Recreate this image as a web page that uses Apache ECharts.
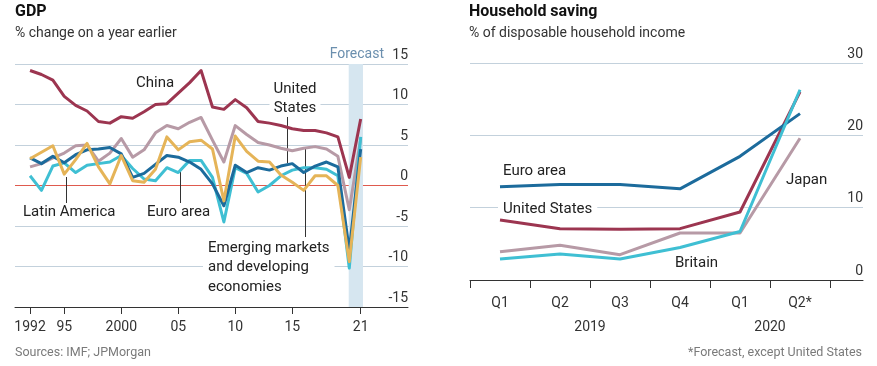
<!DOCTYPE html>
<html>
<head>
<meta charset="utf-8">
<script src="https://cdn.jsdelivr.net/npm/echarts@6/dist/echarts.min.js"></script>
<style>
html,body{margin:0;padding:0;background:#fff;}
#c{width:877px;height:366px;}
</style>
</head>
<body>
<div id="c"></div>
<script>
// ---- GDP chart data (% change on a year earlier) ----
const gdpYears = [1992,1993,1994,1995,1996,1997,1998,1999,2000,2001,2002,2003,2004,2005,2006,2007,2008,2009,2010,2011,2012,2013,2014,2015,2016,2017,2018,2019,2020,2021];
const china    = [14.2,13.7,13.0,11.0,9.9,9.2,7.9,7.7,8.5,8.3,9.1,10.0,10.1,11.4,12.7,14.2,9.7,9.4,10.6,9.6,7.9,7.7,7.4,7.0,6.8,6.8,6.5,6.0,1.0,8.2];
const emde     = [2.3,2.7,3.4,4.0,4.9,5.0,3.0,4.0,5.8,3.5,4.4,6.5,7.4,7.0,7.8,8.4,5.6,2.9,7.4,6.3,5.3,5.0,4.6,4.3,4.6,4.8,4.5,3.6,-3.0,5.8];
const latinAm  = [3.3,4.1,4.9,1.4,3.2,5.2,2.3,0.2,3.7,0.6,0.4,2.0,6.0,4.4,5.4,5.6,4.5,-1.9,6.1,4.2,3.0,2.9,1.3,0.4,-0.6,1.2,1.2,0.0,-9.4,3.5];
const usGdp    = [3.4,2.7,3.6,2.8,3.8,4.4,4.5,4.7,3.9,1.0,1.5,2.6,3.7,3.5,2.9,2.0,0.2,-2.5,2.5,1.6,2.2,1.9,2.4,2.7,1.6,2.4,2.9,2.3,-8.0,4.5];
const euroGdp  = [1.2,-0.6,2.4,2.8,1.6,2.5,2.7,2.9,3.7,2.1,0.8,0.6,2.2,1.6,3.1,3.1,1.0,-4.5,2.2,1.5,-0.8,0.0,1.2,1.9,2.2,2.2,2.0,1.2,-10.2,6.0];
const gdpTickYears = [1992,1995,2000,2005,2010,2015,2021];
const gdpTickLabels = ['1992','95','2000','05','10','15','21'];
const forecastRange = [2019.95, 2021.2];

// ---- Household saving data (% of disposable household income) ----
const quarters = ['Q1','Q2','Q3','Q4','Q1','Q2*'];
const yearLabels = ['2019','2020'];
const euroSaving    = [12.9,13.2,13.2,12.6,17.1,23.0];
const usSaving      = [8.3,7.1,7.0,7.1,9.4,26.0];
const japanSaving   = [3.9,4.8,3.5,6.5,6.5,19.6];
const britainSaving = [2.9,3.6,2.9,4.5,6.7,26.3];

const C = {
  china:'#9c3550', emde:'#b79aa6', latin:'#e5b458', us:'#1c6b9c', euro:'#3fbfd3',
  grid:'#c3d1dc', zero:'#df5a4e', text:'#333333', band:'#d6e6f0'
};
const FONT = 'Roboto';

function pairs(xs, ys){ return ys.map((v,i)=>[xs[i], v]); }
const qx = quarters.map((q,i)=>i+0.5);

function gdpSeries(name, data, color){
  return {type:'line', name, xAxisIndex:0, yAxisIndex:0, data:pairs(gdpYears,data), z:5,
    showSymbol:false, lineStyle:{color, width:3, join:'round'}, itemStyle:{color}, silent:true, animation:false};
}
function savSeries(name, data, color){
  return {type:'line', name, xAxisIndex:1, yAxisIndex:1, data:pairs(qx,data), z:5,
    showSymbol:false, lineStyle:{color, width:3, join:'round'}, itemStyle:{color}, silent:true, animation:false};
}

const gridColors = ['#c3d1dc','#c3d1dc','#c3d1dc', C.zero, '#c3d1dc','#c3d1dc','#c3d1dc'];

const chart = echarts.init(document.getElementById('c'), null, {renderer:'canvas'});
const txt = (o)=>Object.assign({type:'text', silent:true}, o);

chart.setOption({
  animation:false,
  textStyle:{fontFamily:FONT},
  grid:[
    {left:15, top:64, width:393, height:243},
    {left:470, top:63, width:393, height:217}
  ],
  xAxis:[
    {type:'value', gridIndex:0, min:1990.68, max:2025.15, z:6,
      axisLine:{show:true, onZero:false, lineStyle:{color:'#333', width:1}},
      axisTick:{show:true, length:7, customValues:gdpTickYears, lineStyle:{color:'#333'}},
      axisLabel:{customValues:gdpTickYears, formatter:(v)=>gdpTickLabels[gdpTickYears.indexOf(Math.round(v))], color:C.text, fontSize:14, margin:13, fontFamily:FONT},
      splitLine:{show:false}},
    {type:'value', gridIndex:1, min:0, max:6.55, z:6,
      axisLine:{show:true, onZero:false, lineStyle:{color:'#333', width:1}},
      axisTick:{show:true, length:8, customValues:[0,1,2,3,4,5,6], lineStyle:{color:'#333'}},
      axisLabel:{customValues:qx, formatter:(v)=>quarters[Math.round(v-0.5)], color:C.text, fontSize:14, margin:16, fontFamily:FONT},
      splitLine:{show:false}},
    {type:'value', gridIndex:1, min:0, max:6.55, position:'bottom',
      axisLine:{show:false}, axisTick:{show:false},
      axisLabel:{customValues:[2,5], formatter:(v)=>yearLabels[v===2?0:1], color:C.text, fontSize:14, margin:40, fontFamily:FONT},
      splitLine:{show:false}}
  ],
  yAxis:[
    {type:'value', gridIndex:0, min:-15, max:15, interval:5, position:'right', z:0,
      axisLine:{show:false}, axisTick:{show:false},
      axisLabel:{inside:true, align:'right', verticalAlign:'bottom', margin:0, padding:[0,0,2,0], color:C.text, fontSize:14, fontFamily:FONT},
      splitLine:{show:true, lineStyle:{color:gridColors, width:1}}},
    {type:'value', gridIndex:1, min:0, max:30, interval:10, position:'right', z:0,
      axisLine:{show:false}, axisTick:{show:false},
      axisLabel:{inside:true, align:'right', verticalAlign:'bottom', margin:0, padding:[0,0,2,0], color:C.text, fontSize:14, fontFamily:FONT},
      splitLine:{show:true, lineStyle:{color:'#c3d1dc', width:1}}}
  ],
  series:[
    Object.assign(gdpSeries('Emerging markets and developing economies', emde, C.emde), {
      markArea:{silent:true, z:1, itemStyle:{color:C.band}, data:[[{xAxis:forecastRange[0]},{xAxis:forecastRange[1]}]]}}),
    gdpSeries('Euro area', euroGdp, C.euro),
    gdpSeries('United States', usGdp, C.us),
    gdpSeries('Latin America', latinAm, C.latin),
    gdpSeries('China', china, C.china),
    savSeries('Japan', japanSaving, C.emde),
    savSeries('United States', usSaving, C.china),
    savSeries('Euro area', euroSaving, C.us),
    savSeries('Britain', britainSaving, C.euro)
  ],
  graphic:[
    txt({x:15, y:12, style:{text:'GDP', font:'bold 16px '+FONT, fill:'#111', verticalAlign:'middle'}}),
    txt({x:15, y:33, style:{text:'% change on a year earlier', font:'14px '+FONT, fill:'#333', verticalAlign:'middle'}}),
    txt({x:469, y:12, style:{text:'Household saving', font:'bold 16px '+FONT, fill:'#111', verticalAlign:'middle'}}),
    txt({x:469, y:33, style:{text:'% of disposable household income', font:'14px '+FONT, fill:'#333', verticalAlign:'middle'}}),
    txt({x:384, y:54, style:{text:'Forecast', font:'14px '+FONT, fill:'#6b8fae', align:'right', verticalAlign:'middle'}}),
    // GDP annotations
    txt({x:136, y:83, z:2, style:{text:'China', font:'15px '+FONT, fill:'#222', verticalAlign:'middle'}}),
    txt({x:295, y:80, z:2, style:{text:'United\nStates', font:'15px '+FONT, fill:'#222', align:'center', verticalAlign:'top', lineHeight:19, backgroundColor:'#fff', padding:[0,4,0,4]}}),
    txt({x:23, y:212, z:2, style:{text:'Latin America', font:'15px '+FONT, fill:'#222', verticalAlign:'middle'}}),
    txt({x:147, y:212, z:2, style:{text:'Euro area', font:'15px '+FONT, fill:'#222', verticalAlign:'middle'}}),
    txt({x:203, y:238, z:2, style:{text:'Emerging markets\nand developing\neconomies', font:'15px '+FONT, fill:'#222', verticalAlign:'top', lineHeight:19.5, backgroundColor:'#fff', padding:[0,5,0,5]}}),
    {type:'line', silent:true, z:2, shape:{x1:66.5,y1:177,x2:66.5,y2:203}, style:{stroke:'#333', lineWidth:1}},
    {type:'line', silent:true, z:2, shape:{x1:180.5,y1:172,x2:180.5,y2:203}, style:{stroke:'#333', lineWidth:1}},
    {type:'line', silent:true, z:2, shape:{x1:287.5,y1:117,x2:287.5,y2:163}, style:{stroke:'#333', lineWidth:1}},
    {type:'line', silent:true, z:2, shape:{x1:305.5,y1:149,x2:305.5,y2:237}, style:{stroke:'#333', lineWidth:1}},
    // Saving annotations
    txt({x:503, y:171, z:2, style:{text:'Euro area', font:'15px '+FONT, fill:'#222', verticalAlign:'middle'}}),
    txt({x:498, y:209, z:2, style:{text:'United States', font:'15px '+FONT, fill:'#222', verticalAlign:'middle', backgroundColor:'#fff', padding:[0,5,0,5]}}),
    txt({x:675, y:263, z:2, style:{text:'Britain', font:'15px '+FONT, fill:'#222', verticalAlign:'middle'}}),
    txt({x:786, y:180, z:2, style:{text:'Japan', font:'15px '+FONT, fill:'#222', verticalAlign:'middle'}}),
    // Footnotes
    txt({x:15, y:353, style:{text:'Sources: IMF; JPMorgan', font:'12.5px '+FONT, fill:'#7a7a7a', verticalAlign:'middle'}}),
    txt({x:862, y:353, style:{text:'*Forecast, except United States', font:'12.5px '+FONT, fill:'#7a7a7a', align:'right', verticalAlign:'middle'}})
  ]
});
</script>
</body>
</html>
